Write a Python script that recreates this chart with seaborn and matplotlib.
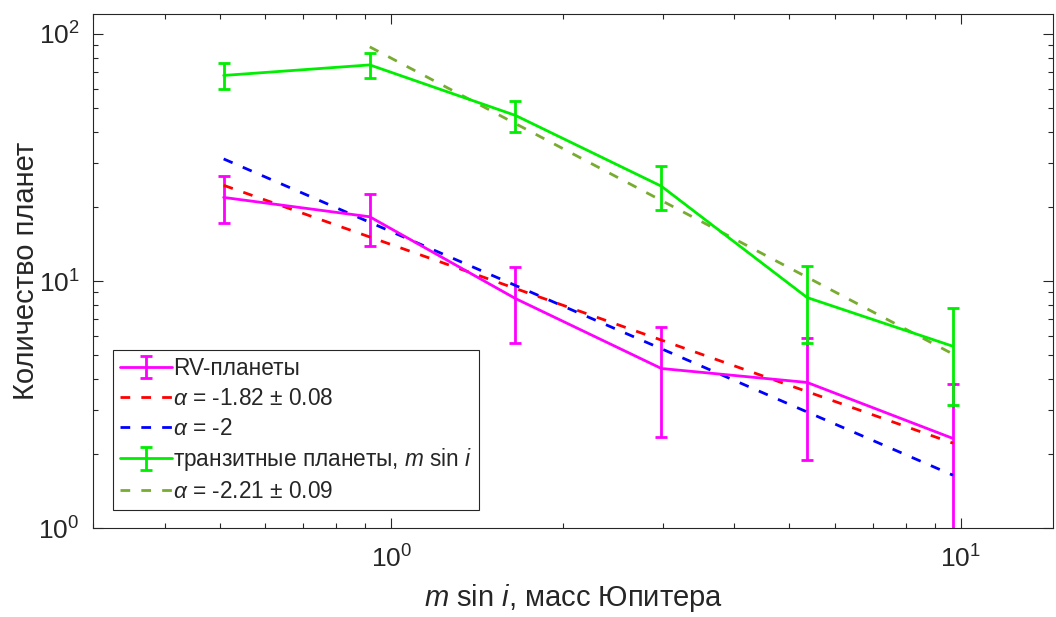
import matplotlib
matplotlib.use('Agg')
import matplotlib.pyplot as plt
import seaborn as sns

# bin centres, Jupiter masses
masses = [0.508, 0.917, 1.652, 2.98, 5.37, 9.68]

rv_counts = [21.8, 18.2, 8.5, 4.43, 3.89, 2.31]
rv_err = [4.7, 4.3, 2.9, 2.1, 2.0, 1.52]

tr_counts = [67.9, 74.9, 46.8, 24.2, 8.58, 5.45]
tr_err = [8.2, 8.7, 6.6, 4.9, 2.95, 2.3]

# power-law fits (end points of straight lines in log-log)
fit182_x = [0.508, 9.68]
fit182_y = [24.4, 2.21]
fit2_x = [0.508, 9.68]
fit2_y = [31.2, 1.64]
fit221_x = [0.917, 9.68]
fit221_y = [88.6, 5.07]

labels = ['RV-планеты', r'$\alpha$ = -1.82 ± 0.08', r'$\alpha$ = -2',
          r'транзитные планеты, $m$ sin $i$', r'$\alpha$ = -2.21 ± 0.09']

sns.set_style('white')
plt.rcParams['font.family'] = ['Liberation Sans', 'DejaVu Sans']
plt.rcParams['mathtext.fontset'] = 'custom'
plt.rcParams['mathtext.rm'] = 'Liberation Sans'
plt.rcParams['mathtext.it'] = 'Liberation Sans:italic'
plt.rcParams['axes.edgecolor'] = '#262626'
plt.rcParams['xtick.color'] = '#262626'
plt.rcParams['ytick.color'] = '#262626'

fig = plt.figure(figsize=(10.56, 6.17), dpi=100)
ax = fig.add_axes([0.0884, 0.1438, 0.9086, 0.833])

dash = (3.5, 4)
h1 = ax.errorbar(masses, rv_counts, yerr=rv_err, color='#ff00ff', lw=2,
                 capsize=4.5, capthick=2, elinewidth=2)
sns.lineplot(x=fit182_x, y=fit182_y, color='#ff0000', lw=2, ax=ax)
ax.lines[-1].set_dashes(dash)
h2 = ax.lines[-1]
sns.lineplot(x=fit2_x, y=fit2_y, color='#0000ff', lw=2, ax=ax)
ax.lines[-1].set_dashes(dash)
h3 = ax.lines[-1]
h4 = ax.errorbar(masses, tr_counts, yerr=tr_err, color='#00ee00', lw=2,
                 capsize=4.5, capthick=2, elinewidth=2)
sns.lineplot(x=fit221_x, y=fit221_y, color='#77ac30', lw=2, ax=ax)
ax.lines[-1].set_dashes(dash)
h5 = ax.lines[-1]

ax.set_xscale('log')
ax.set_yscale('log')
ax.set_xlim(0.3, 14.5)
ax.set_ylim(1, 120)

ax.tick_params(which='both', direction='in', top=True, right=True,
               bottom=True, left=True, labelsize=19, width=0.8)
ax.tick_params(which='major', length=7)
ax.tick_params(axis='x', which='major', pad=12)
ax.tick_params(axis='y', which='major', pad=10)
ax.tick_params(which='minor', length=3.5)
for s in ax.spines.values():
    s.set_linewidth(0.8)

ax.set_xlabel(r'$m$ sin $i$, масс Юпитера', fontsize=21, labelpad=7)
ax.set_ylabel('Количество планет', fontsize=21)
ax.yaxis.set_label_coords(-0.0555, 0.5)

leg = ax.legend([h1, h2, h3, h4, h5], labels, loc='lower left',
                bbox_to_anchor=(0.0202, 0.0356), borderaxespad=0,
                fontsize=16.3, fancybox=False, framealpha=1, edgecolor='#262626',
                handlelength=2.3, handletextpad=0.05, labelspacing=0.3,
                borderpad=0.3)
leg.get_frame().set_linewidth(0.8)

fig.savefig('out.png', dpi=100)
